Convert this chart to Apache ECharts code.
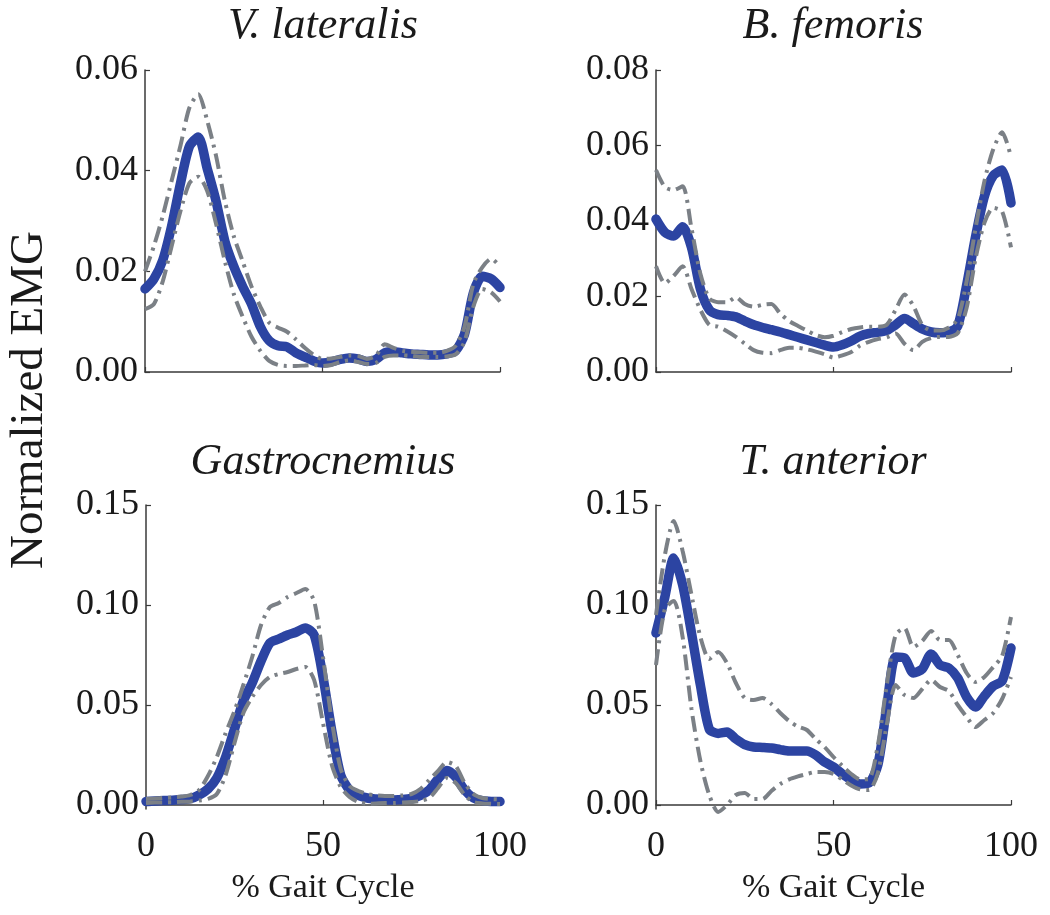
<!DOCTYPE html>
<html>
<head>
<meta charset="utf-8">
<script src="https://cdn.jsdelivr.net/npm/echarts@6/dist/echarts.min.js"></script>
<style>
html,body{margin:0;padding:0;background:#fff;}
#chart{width:1050px;height:915px;}
</style>
</head>
<body>
<div id="chart"></div>
<script>
// % gait cycle sample points (shared by all panels)
const gaitX = [0,2.5,5,7.5,10,12.5,15,17.5,20,22.5,25,27.5,30,32.5,35,37.5,40,42.5,45,47.5,50,52.5,55,57.5,60,62.5,65,67.5,70,72.5,75,77.5,80,82.5,85,87.5,90,92.5,95,97.5,100];

const titles = ["V. lateralis", "B. femoris", "Gastrocnemius", "T. anterior"];
const yTickLabelsTop = [[0,0.02,0.04,0.06],[0,0.02,0.04,0.06,0.08]];
const yTickLabelsBottom = [0,0.05,0.10,0.15];
const xTickLabels = [0,50,100];

// V. lateralis
const vlMean = [0.0165,0.0185,0.0222,0.029,0.0375,0.0448,0.0467,0.0405,0.034,0.026,0.021,0.017,0.0135,0.009,0.0062,0.0052,0.005,0.0038,0.003,0.0022,0.0018,0.002,0.0025,0.0028,0.0026,0.0021,0.0025,0.0038,0.004,0.0038,0.0036,0.0035,0.0034,0.0034,0.0036,0.0042,0.0075,0.0157,0.019,0.0185,0.0168];
const vlUpper = [0.020,0.025,0.031,0.038,0.045,0.0525,0.0552,0.050,0.043,0.034,0.027,0.022,0.017,0.013,0.0098,0.0088,0.008,0.0065,0.0048,0.0034,0.0026,0.0027,0.003,0.0033,0.0032,0.0026,0.0032,0.0055,0.0048,0.0042,0.004,0.0039,0.0038,0.0038,0.0042,0.0052,0.009,0.0175,0.0208,0.0225,0.021];
const vlLower = [0.0125,0.0135,0.018,0.025,0.032,0.0375,0.0388,0.036,0.0295,0.022,0.0155,0.011,0.007,0.0042,0.0022,0.0014,0.0012,0.0012,0.0013,0.0014,0.0012,0.0014,0.002,0.0023,0.002,0.0016,0.0018,0.003,0.0033,0.0033,0.0032,0.003,0.003,0.003,0.0031,0.0035,0.006,0.013,0.0165,0.0158,0.014];

// B. femoris
const bfMean = [0.0405,0.037,0.036,0.0385,0.033,0.022,0.0165,0.0152,0.015,0.0146,0.0135,0.0125,0.0118,0.0112,0.0106,0.0099,0.0092,0.0085,0.0078,0.0071,0.0066,0.0072,0.0082,0.0095,0.0102,0.0105,0.011,0.0125,0.0142,0.0128,0.0114,0.0106,0.0104,0.0106,0.0122,0.023,0.0358,0.0465,0.052,0.0535,0.0448];
const bfUpper = [0.0535,0.049,0.0482,0.0492,0.038,0.026,0.0195,0.0185,0.0185,0.0198,0.018,0.0173,0.0178,0.018,0.0155,0.0135,0.0122,0.011,0.0098,0.0092,0.0096,0.0106,0.0114,0.0118,0.012,0.012,0.0125,0.0165,0.0205,0.0175,0.0125,0.011,0.011,0.0118,0.014,0.024,0.038,0.0505,0.059,0.0635,0.057];
const bfLower = [0.028,0.0235,0.0255,0.028,0.022,0.0165,0.0125,0.012,0.0108,0.0093,0.0075,0.0058,0.0051,0.005,0.0058,0.0064,0.0064,0.006,0.0054,0.0047,0.0038,0.0044,0.0053,0.007,0.008,0.0087,0.0092,0.0102,0.0075,0.0058,0.008,0.009,0.0093,0.0093,0.0103,0.017,0.03,0.0395,0.0435,0.0425,0.033];

// Gastrocnemius
const gaMean = [0.0018,0.002,0.0022,0.0024,0.0027,0.0032,0.005,0.008,0.0135,0.024,0.038,0.052,0.061,0.072,0.081,0.083,0.085,0.0865,0.0885,0.085,0.064,0.037,0.015,0.0075,0.0048,0.0035,0.003,0.0027,0.0025,0.0027,0.0033,0.0048,0.0075,0.013,0.0172,0.014,0.0075,0.0035,0.0022,0.0018,0.0017];
const gaUpper = [0.003,0.0032,0.0035,0.0038,0.0042,0.005,0.0075,0.0145,0.024,0.036,0.047,0.06,0.074,0.09,0.099,0.101,0.104,0.106,0.108,0.102,0.074,0.042,0.018,0.0095,0.007,0.0055,0.0048,0.0045,0.0045,0.0048,0.0055,0.008,0.0125,0.017,0.0215,0.0195,0.011,0.0055,0.0035,0.003,0.0028];
const gaLower = [0.001,0.0012,0.0013,0.0014,0.0016,0.0018,0.0022,0.003,0.0055,0.015,0.031,0.046,0.054,0.06,0.064,0.0655,0.0665,0.068,0.069,0.0625,0.041,0.02,0.009,0.004,0.0015,0.0006,0.0008,0.001,0.001,0.0012,0.0015,0.002,0.0035,0.0085,0.0135,0.011,0.005,0.0015,0.0008,0.0006,0.0005];

// T. anterior
const taMean = [0.086,0.104,0.1235,0.11,0.086,0.06,0.038,0.0358,0.0365,0.033,0.0302,0.029,0.0288,0.0285,0.0277,0.027,0.027,0.027,0.025,0.0215,0.019,0.0155,0.0125,0.0105,0.011,0.02,0.049,0.074,0.0735,0.066,0.068,0.0755,0.07,0.0685,0.0635,0.054,0.049,0.0545,0.0595,0.062,0.0785];
const taUpper = [0.095,0.125,0.142,0.127,0.105,0.084,0.073,0.0765,0.071,0.061,0.0535,0.0525,0.0535,0.0505,0.046,0.042,0.0392,0.0375,0.033,0.029,0.024,0.0195,0.0155,0.0128,0.013,0.03,0.06,0.085,0.0885,0.079,0.082,0.087,0.0825,0.0825,0.075,0.066,0.0615,0.064,0.069,0.0745,0.094];
const taLower = [0.07,0.098,0.102,0.084,0.048,0.022,0.005,-0.0035,0.0,0.005,0.006,0.003,0.003,0.007,0.0105,0.0128,0.0143,0.0155,0.0165,0.0165,0.0155,0.0127,0.0098,0.0078,0.0075,0.016,0.04,0.06,0.055,0.0535,0.058,0.0625,0.059,0.057,0.05,0.044,0.039,0.0425,0.046,0.053,0.064];

const panels = [
  {mean: vlMean, upper: vlUpper, lower: vlLower},
  {mean: bfMean, upper: bfUpper, lower: bfLower},
  {mean: gaMean, upper: gaUpper, lower: gaLower},
  {mean: taMean, upper: taUpper, lower: taLower}
];

const BLUE = '#2c44a2';
const GRAY = '#7b8086';
const AX = '#3a3a3a';
const FONT = '"Liberation Serif", "DejaVu Serif", serif';

const grids = [
  {left: 145, top: 70, width: 355, height: 302},
  {left: 656, top: 70, width: 355, height: 302},
  {left: 146, top: 505, width: 354, height: 304},
  {left: 656, top: 505, width: 355, height: 304}
];

const xAxes = grids.map((g, i) => ({
  type: 'value', gridIndex: i, min: 0, max: 100, interval: 50,
  axisLine: {show: true, lineStyle: {color: AX, width: 1.5}},
  axisTick: {show: true, inside: true, length: 5, lineStyle: {color: AX, width: 1.2}},
  axisLabel: {show: i >= 2, fontFamily: FONT, fontSize: 36, color: '#1a1a1a', margin: 20,
    formatter: v => xTickLabels.includes(v) ? String(v) : ''},
  splitLine: {show: false},
  name: i >= 2 ? '% Gait Cycle' : '',
  nameLocation: 'middle', nameGap: 62,
  nameTextStyle: {fontFamily: FONT, fontSize: 34, color: '#1a1a1a'}
}));

const yAxes = grids.map((g, i) => {
  const base = {
    type: 'value', gridIndex: i,
    axisLine: {show: true, lineStyle: {color: AX, width: 1.5}},
    axisTick: {show: true, inside: true, length: 5, lineStyle: {color: AX, width: 1.2}},
    axisLabel: {fontFamily: FONT, fontSize: 36, color: '#1a1a1a', margin: 7, formatter: v => v.toFixed(2)},
    splitLine: {show: false}
  };
  if (i < 2) {
    const t = yTickLabelsTop[i];
    base.min = 0; base.max = t[t.length - 1]; base.interval = 0.02;
  } else {
    base.min = -0.002; base.max = 0.15;
    base.axisLabel.customValues = yTickLabelsBottom;
    base.axisTick.customValues = yTickLabelsBottom;
  }
  return base;
});

const series = [];
panels.forEach((p, i) => {
  const pts = arr => gaitX.map((x, k) => [x, arr[k]]);
  series.push({
    type: 'line', xAxisIndex: i, yAxisIndex: i, data: pts(p.mean),
    showSymbol: false, symbol: 'none', smooth: 0.25, clip: false, z: 2,
    lineStyle: {color: BLUE, width: 9.5, cap: 'round', join: 'round'}
  });
  [p.upper, p.lower].forEach(arr => {
    series.push({
      type: 'line', xAxisIndex: i, yAxisIndex: i, data: pts(arr),
      showSymbol: false, symbol: 'none', smooth: 0.25, clip: false, z: 3,
      lineStyle: {color: GRAY, width: 4, type: [16, 6, 3, 6]}
    });
  });
});

const titlePos = [[323, 26], [833, 26], [323, 462], [833, 462]];
const graphic = titles.map((t, i) => ({
  type: 'text', x: titlePos[i][0], y: titlePos[i][1],
  style: {text: t, fontFamily: FONT, fontStyle: 'italic', fontSize: 44, fill: '#1a1a1a',
    align: 'center', verticalAlign: 'middle'}
}));
graphic.push({
  type: 'text', x: 30, y: 400, rotation: Math.PI / 2,
  style: {text: 'Normalized EMG', fontFamily: FONT, fontSize: 47, fill: '#1a1a1a',
    align: 'center', verticalAlign: 'middle'}
});

const chart = echarts.init(document.getElementById('chart'), null, {renderer: 'canvas'});
chart.setOption({
  animation: false,
  backgroundColor: '#ffffff',
  grid: grids,
  xAxis: xAxes,
  yAxis: yAxes,
  series: series,
  graphic: graphic
});
</script>
</body>
</html>
